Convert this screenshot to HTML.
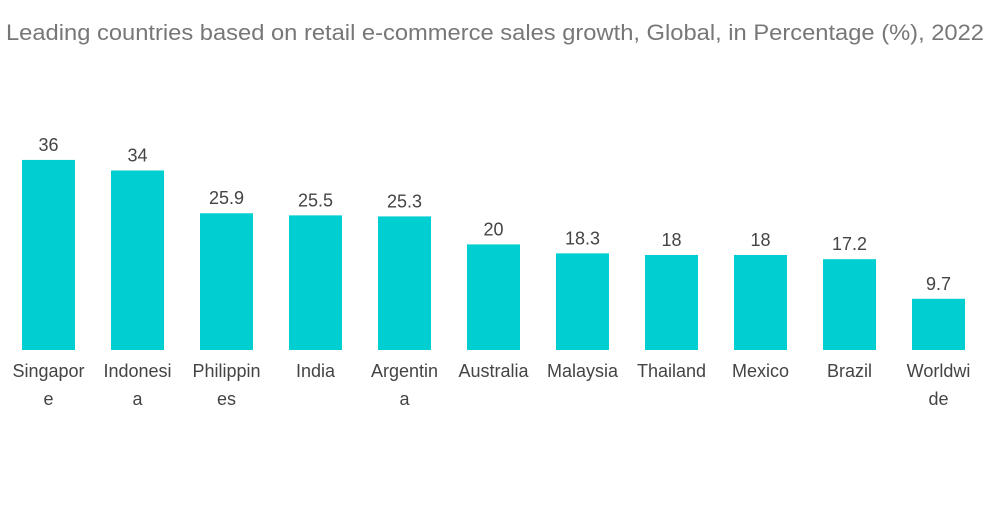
<!DOCTYPE html>
<html><head><meta charset="utf-8"><style>
body{margin:0;background:#fff;width:1000px;height:504px;overflow:hidden;font-family:"Liberation Sans",sans-serif}
</style></head><body>
<svg id="chart" width="1000" height="504" xmlns="http://www.w3.org/2000/svg">
<text x="6" y="40" font-size="22" textLength="978" lengthAdjust="spacingAndGlyphs" fill="#777" font-family="Liberation Sans, sans-serif">Leading countries based on retail e-commerce sales growth, Global, in Percentage (%), 2022</text>
<g id="bars"></g>
</svg>
<script>
const categories=["Singapore","Indonesia","Philippines","India","Argentina","Australia","Malaysia","Thailand","Mexico","Brazil","Worldwide"];
const categoryLines=[["Singapor","e"],["Indonesi","a"],["Philippin","es"],["India"],["Argentin","a"],["Australia"],["Malaysia"],["Thailand"],["Mexico"],["Brazil"],["Worldwi","de"]];
const values=[36,34,25.9,25.5,25.3,20,18.3,18,18,17.2,9.7];
const valueLabels=["36","34","25.9","25.5","25.3","20","18.3","18","18","17.2","9.7"];
const NS="http://www.w3.org/2000/svg";
const g=document.getElementById("bars");
const baseY=350, pxPerUnit=5.28, x0=22, step=89, bw=53;
const xPos=i=>x0+i*step;
const yPos=v=>baseY-v*pxPerUnit;
categories.forEach((c,i)=>{
  const r=document.createElementNS(NS,"rect");
  
  
  r.setAttribute("x",xPos(i));r.setAttribute("y",yPos(values[i]));
  r.setAttribute("width",bw);r.setAttribute("height",baseY-yPos(values[i]));
  r.setAttribute("fill","#00CED1");g.appendChild(r);
  const t=document.createElementNS(NS,"text");
  
  
  t.setAttribute("x",xPos(i)+bw/2);t.setAttribute("y",yPos(values[i])-9);
  t.setAttribute("text-anchor","middle");t.setAttribute("font-size","18");t.setAttribute("fill","#444");
  t.textContent=valueLabels[i];g.appendChild(t);
  categoryLines[i].forEach((ln,j)=>{
    const l=document.createElementNS(NS,"text");
    
    
    l.setAttribute("x",xPos(i)+bw/2);l.setAttribute("y",377+j*28);
    l.setAttribute("text-anchor","middle");l.setAttribute("font-size","18");l.setAttribute("fill","#444");
    l.textContent=ln;g.appendChild(l);
  });
});
</script>
</body></html>
